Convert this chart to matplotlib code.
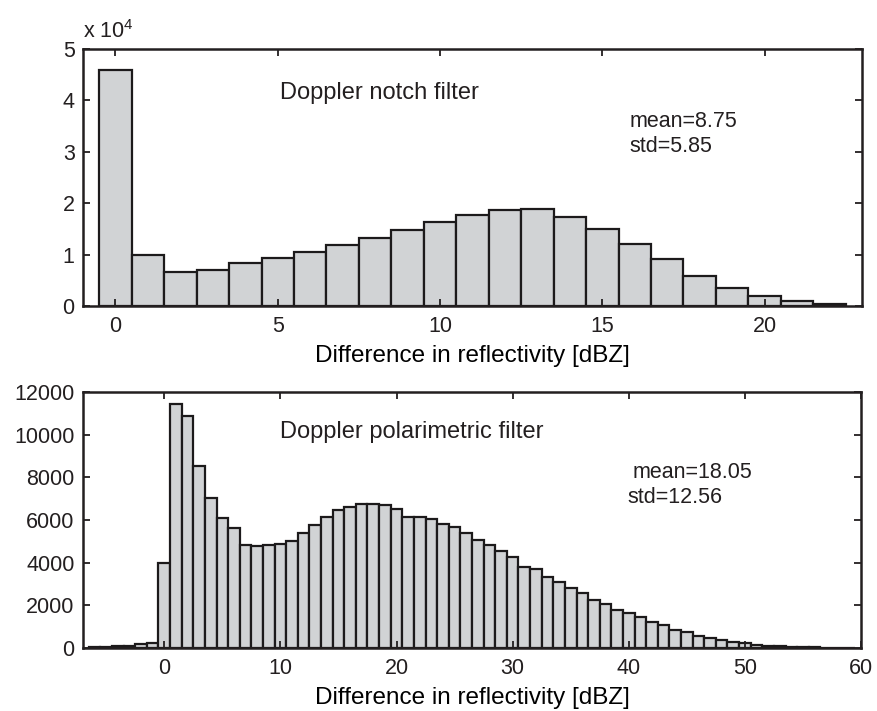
import matplotlib
matplotlib.use("Agg")
import matplotlib.pyplot as plt
from matplotlib.ticker import FuncFormatter

plt.rcParams['font.family'] = ['Liberation Sans', 'DejaVu Sans']
plt.rcParams['mathtext.fontset'] = 'custom'
plt.rcParams['mathtext.rm'] = 'Liberation Sans'

# ---- data: Doppler notch filter (bin centres in dBZ, counts) ----
notch_bins = list(range(0, 23))
notch_counts = [45950, 9860, 6530, 7050, 8420, 9400, 10440, 11800, 13180, 14750,
                16380, 17620, 18600, 18800, 17360, 15010, 12080, 9070, 5870, 3590,
                2020, 980, 390]
notch_mean_text = "mean=8.75"
notch_std_text = "std=5.85"

# ---- data: Doppler polarimetric filter ----
polar_bins = list(range(-6, 60))
polar_counts = [30, 47, 78, 110, 172, 250,
                4000, 11450, 10890, 8520, 7020, 6080, 5630, 4850, 4780, 4830,
                4880, 5030, 5380, 5780, 6130, 6455, 6600, 6770, 6770, 6690,
                6520, 6130, 6130, 6050, 5830, 5660, 5380, 5060, 4810, 4550,
                4280, 3780, 3690, 3330, 3095, 2830, 2560, 2235, 2050, 1780,
                1650, 1470, 1235, 1080, 845, 750, 580, 485, 375, 300,
                220, 156, 110, 80, 55, 40, 30, 20, 15, 10]
polar_mean_text = "mean=18.05"
polar_std_text = "std=12.56"

notch_xticks = [0, 5, 10, 15, 20]
notch_yticks = [0, 10000, 20000, 30000, 40000, 50000]
polar_xticks = [0, 10, 20, 30, 40, 50, 60]
polar_yticks = [0, 2000, 4000, 6000, 8000, 10000, 12000]
xlabel = "Difference in reflectivity [dBZ]"

face = '#d1d3d5'
edge = '#1c1a1b'
ink = '#231f20'

fig = plt.figure(figsize=(8.77, 7.11), dpi=100)
W, H = 877, 711
ax1 = fig.add_axes([83 / W, 1 - 306 / H, 779 / W, 257 / H])
ax2 = fig.add_axes([83 / W, 1 - 648 / H, 778 / W, 256 / H])

tick_fs = 15.5
label_fs = 17.5
title_fs = 17
stat_fs = 15.5

for ax in (ax1, ax2):
    for s in ax.spines.values():
        s.set_linewidth(1.8)
        s.set_color(ink)
    ax.tick_params(direction='in', length=5, width=1.3, colors=ink,
                   top=True, right=True, labelsize=tick_fs, pad=7)
    ax.tick_params(axis='y', pad=6)

ax1.bar(notch_bins, notch_counts, width=1.0, color=face, edgecolor=edge, linewidth=1.6)
ax1.set_xlim(-1, 23)
ax1.set_ylim(0, 50000)
ax1.set_xticks(notch_xticks)
ax1.set_yticks(notch_yticks)
ax1.yaxis.set_major_formatter(FuncFormatter(lambda v, p: f"{v / 1e4:g}"))
ax1.set_xlabel(xlabel, fontsize=label_fs, labelpad=6)
ax1.text(0.253, 0.805, "Doppler notch filter", transform=ax1.transAxes,
         fontsize=title_fs, va='baseline', ha='left', color=ink)
ax1.text(0.702, 0.697, notch_mean_text, transform=ax1.transAxes,
         fontsize=stat_fs, va='baseline', ha='left', color=ink)
ax1.text(0.702, 0.599, notch_std_text, transform=ax1.transAxes,
         fontsize=stat_fs, va='baseline', ha='left', color=ink)
fig.text(83 / W, 1 - 38 / H, "x 10$^{4}$", fontsize=tick_fs, va='baseline',
         ha='left', color=ink)

ax2.bar(polar_bins, polar_counts, width=1.0, color=face, edgecolor=edge, linewidth=1.6)
ax2.set_xlim(-7, 60)
ax2.set_ylim(0, 12000)
ax2.set_xticks(polar_xticks)
ax2.set_yticks(polar_yticks)
ax2.set_xlabel(xlabel, fontsize=label_fs, labelpad=6)
ax2.text(0.253, 0.820, "Doppler polarimetric filter", transform=ax2.transAxes,
         fontsize=title_fs, va='baseline', ha='left', color=ink)
ax2.text(0.706, 0.664, polar_mean_text, transform=ax2.transAxes,
         fontsize=stat_fs, va='baseline', ha='left', color=ink)
ax2.text(0.700, 0.566, polar_std_text, transform=ax2.transAxes,
         fontsize=stat_fs, va='baseline', ha='left', color=ink)

fig.savefig("out.png", dpi=100)
